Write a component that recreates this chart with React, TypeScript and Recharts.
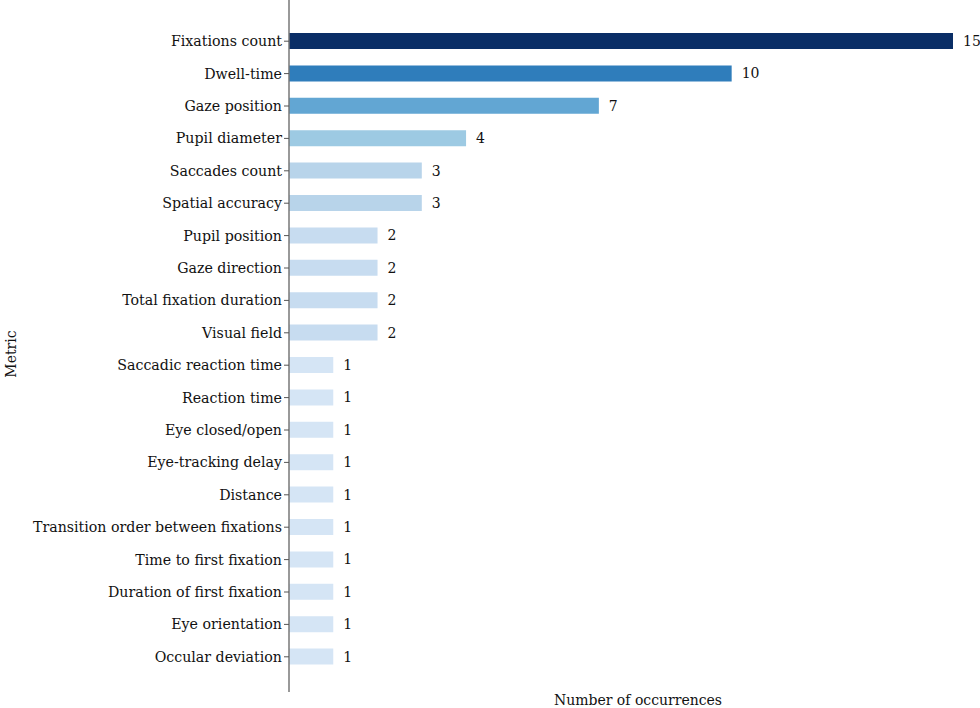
import React from 'react';
import { BarChart, Bar, XAxis, YAxis, Cell, LabelList } from 'recharts';

const metrics = [
  'Fixations count',
  'Dwell-time',
  'Gaze position',
  'Pupil diameter',
  'Saccades count',
  'Spatial accuracy',
  'Pupil position',
  'Gaze direction',
  'Total fixation duration',
  'Visual field',
  'Saccadic reaction time',
  'Reaction time',
  'Eye closed/open',
  'Eye-tracking delay',
  'Distance',
  'Transition order between fixations',
  'Time to first fixation',
  'Duration of first fixation',
  'Eye orientation',
  'Occular deviation',
];

const occurrences = [15, 10, 7, 4, 3, 3, 2, 2, 2, 2, 1, 1, 1, 1, 1, 1, 1, 1, 1, 1];

const colorByValue: Record<number, string> = {
  15: '#0a2e66',
  10: '#2f7dbb',
  7: '#62a6d3',
  4: '#9dcae3',
  3: '#b8d4ea',
  2: '#c7dcf0',
  1: '#d5e5f5',
};

const data = metrics.map((m, i) => ({ metric: m, value: occurrences[i] }));

const FONT = '"DejaVu Serif", serif';

export default function App() {
  return (
    <div style={{ position: 'absolute', left: 0, top: 0, background: '#fff' }}>
      <BarChart
        width={980}
        height={708}
        data={data}
        layout="vertical"
        margin={{ top: 0, right: 27, bottom: 0, left: 0 }}
        barSize={16}
      >
        <XAxis
          type="number"
          domain={[0, 15]}
          tick={false}
          tickLine={false}
          axisLine={false}
          height={16}
          label={{
            value: 'Number of occurrences',
            position: 'insideBottom',
            dx: 17,
            dy: 2,
            style: { fontFamily: FONT, fontSize: 14, fill: '#111' },
          }}
        />
        <YAxis
          type="category"
          dataKey="metric"
          width={289}
          padding={{ top: 25, bottom: 19 }}
          axisLine={{ stroke: '#777', strokeWidth: 1.5 }}
          tickLine={{ stroke: '#555' }}
          tickSize={5}
          interval={0}
          tick={{ fontFamily: FONT, fontSize: 14.2, fill: '#111' }}
          label={{
            value: 'Metric',
            angle: -90,
            position: 'insideLeft',
            dx: 6,
            dy: 8,
            style: { fontFamily: FONT, fontSize: 14, fill: '#111', textAnchor: 'middle' },
          }}
        />
        <Bar dataKey="value" isAnimationActive={false}>
          {data.map((d, i) => (
            <Cell key={i} fill={colorByValue[d.value]} />
          ))}
          <LabelList
            dataKey="value"
            position="right"
            offset={10}
            style={{ fontFamily: FONT, fontSize: 14, fill: '#111' }}
          />
        </Bar>
      </BarChart>
    </div>
  );
}
